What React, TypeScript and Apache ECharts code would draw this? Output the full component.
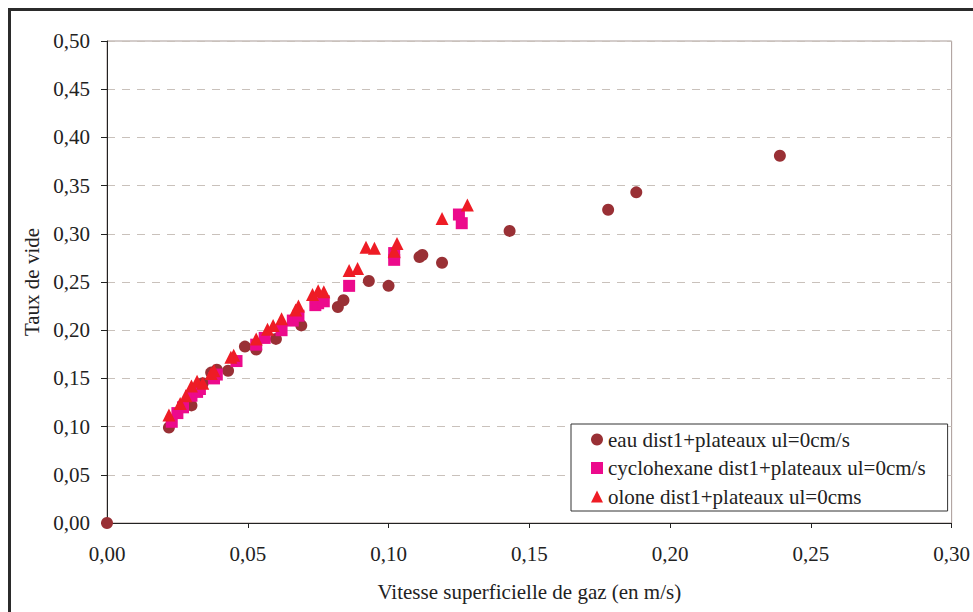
import React, { useEffect, useRef } from "react";
import * as echarts from "echarts";

const seriesNames = [
  "eau dist1+plateaux ul=0cm/s",
  "cyclohexane dist1+plateaux ul=0cm/s",
  "olone dist1+plateaux ul=0cms",
];

const eauData: [number, number][] = [
  [0, 0], [0.022, 0.099], [0.030, 0.122], [0.034, 0.145], [0.037, 0.156],
  [0.039, 0.159], [0.043, 0.158], [0.049, 0.183], [0.053, 0.180], [0.060, 0.191],
  [0.069, 0.205], [0.082, 0.224], [0.084, 0.231], [0.093, 0.251], [0.100, 0.246],
  [0.111, 0.276], [0.112, 0.278], [0.119, 0.270], [0.143, 0.303], [0.178, 0.325],
  [0.188, 0.343], [0.239, 0.381],
];

const cycloData: [number, number][] = [
  [0.023, 0.105], [0.025, 0.114], [0.027, 0.120], [0.030, 0.132], [0.032, 0.136],
  [0.033, 0.139], [0.038, 0.150], [0.039, 0.154], [0.046, 0.168], [0.053, 0.185],
  [0.056, 0.192], [0.062, 0.200], [0.066, 0.210], [0.068, 0.215], [0.074, 0.226],
  [0.075, 0.228], [0.077, 0.230], [0.086, 0.246], [0.102, 0.273], [0.102, 0.280],
  [0.125, 0.320], [0.126, 0.311],
];

const oloneData: [number, number][] = [
  [0.022, 0.112], [0.026, 0.124], [0.028, 0.132], [0.030, 0.142], [0.032, 0.147],
  [0.034, 0.145], [0.037, 0.155], [0.038, 0.158], [0.044, 0.172], [0.045, 0.174],
  [0.053, 0.191], [0.057, 0.201], [0.059, 0.205], [0.062, 0.212], [0.067, 0.221],
  [0.068, 0.225], [0.073, 0.237], [0.075, 0.241], [0.077, 0.240], [0.086, 0.262],
  [0.089, 0.264], [0.092, 0.286], [0.095, 0.285], [0.102, 0.282], [0.103, 0.290],
  [0.119, 0.316], [0.128, 0.330],
];

const xTitle = "Vitesse superficielle de gaz (en m/s)";
const yTitle = "Taux de vide";

const FONT = "'Liberation Serif', 'Times New Roman', serif";
const FS = 21;
const fmt = (v: number) => v.toFixed(2).replace(".", ",");

export default function App() {
  const ref = useRef<HTMLDivElement>(null);
  useEffect(() => {
    if (!ref.current) return;
    const chart = echarts.init(ref.current, undefined, { renderer: "svg" });
    chart.setOption({
      animation: false,
      backgroundColor: "#ffffff",
      textStyle: { fontFamily: FONT },
      graphic: [
        {
          type: "rect",
          shape: { x: 9.5, y: 9.5, width: 1100, height: 800 },
          style: { fill: "none", stroke: "#2b2b2b", lineWidth: 3 },
          silent: true,
          z: 100,
        },
      ],
      grid: {
        left: 107,
        right: 17,
        top: 41,
        bottom: 89,
        show: true,
        borderColor: "#a89a96",
        borderWidth: 1,
        backgroundColor: "transparent",
      },
      legend: {
        orient: "vertical",
        left: 571,
        top: 424,
        padding: [5, 22, 4, 20],
        itemGap: 7.5,
        itemWidth: 12,
        itemHeight: 12,
        backgroundColor: "#ffffff",
        borderColor: "#333333",
        borderWidth: 1,
        textStyle: { fontFamily: FONT, fontSize: FS, color: "#222222" },
        data: seriesNames,
      },
      xAxis: {
        type: "value",
        min: 0,
        max: 0.3,
        interval: 0.05,
        name: xTitle,
        nameLocation: "middle",
        nameGap: 58,
        nameTextStyle: { fontFamily: FONT, fontSize: FS, color: "#222222" },
        axisLine: { show: true, onZero: false, lineStyle: { color: "#222222", width: 1 } },
        axisTick: { show: true, inside: false, length: 5, lineStyle: { color: "#222222" } },
        axisLabel: { fontFamily: FONT, fontSize: FS, color: "#222222", margin: 20, formatter: fmt },
        splitLine: { show: false },
      },
      yAxis: {
        type: "value",
        min: 0,
        max: 0.5,
        interval: 0.05,
        name: yTitle,
        nameLocation: "middle",
        nameGap: 60,
        nameRotate: 90,
        nameTextStyle: { fontFamily: FONT, fontSize: FS, color: "#222222" },
        axisLine: { show: true, onZero: false, lineStyle: { color: "#222222", width: 1 } },
        axisTick: { show: true, inside: false, length: 6, lineStyle: { color: "#222222" } },
        axisLabel: { fontFamily: FONT, fontSize: FS, color: "#222222", margin: 17, formatter: fmt },
        splitLine: { show: true, lineStyle: { color: "#c9c1bb", type: [8, 7], width: 1 } },
      },
      series: [
        {
          name: seriesNames[0],
          type: "scatter",
          symbol: "circle",
          symbolSize: 12,
          itemStyle: { color: "#993035", opacity: 1 },
          data: eauData,
          z: 3,
        },
        {
          name: seriesNames[1],
          type: "scatter",
          symbol: "rect",
          symbolSize: 12,
          itemStyle: { color: "#ec0a8c", opacity: 1 },
          data: cycloData,
          z: 4,
        },
        {
          name: seriesNames[2],
          type: "scatter",
          symbol: "triangle",
          symbolSize: 13,
          itemStyle: { color: "#ee1c25", opacity: 1 },
          data: oloneData,
          z: 5,
        },
      ],
    });
    return () => chart.dispose();
  }, []);
  return (
    <div
      ref={ref}
      style={{ position: "absolute", left: 0, top: 0, width: 973, height: 612 }}
    />
  );
}
